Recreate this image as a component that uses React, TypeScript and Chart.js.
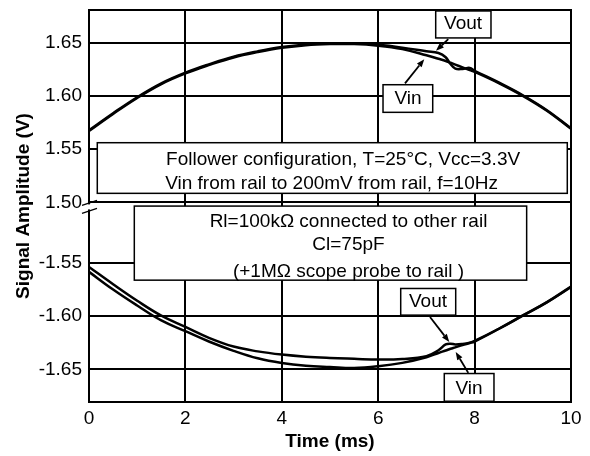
import React, { useEffect, useRef } from 'react';
import { Chart, registerables } from 'chart.js';

Chart.register(...registerables);

// ---- data (time in ms, amplitude in V) ----
const times = [0, 0.5, 1, 1.5, 2, 2.5, 3, 3.5, 4, 4.5, 5, 5.5, 6, 6.5, 7, 7.25, 7.4, 7.5, 7.6, 7.75, 7.9, 8, 8.5, 9, 9.5, 10];

const vinHigh = [1.567, 1.583, 1.598, 1.611, 1.621, 1.629, 1.636, 1.641, 1.645, 1.6475, 1.6485, 1.6485, 1.647, 1.6438, 1.638, 1.6347, 1.6327, 1.631, 1.6293, 1.6267, 1.6241, 1.6225, 1.612, 1.6, 1.586, 1.569];
const voutHigh = [1.5677, 1.5837, 1.5987, 1.6117, 1.6217, 1.6297, 1.6367, 1.6417, 1.6457, 1.6482, 1.6492, 1.6492, 1.6478, 1.6452, 1.6418, 1.6402, 1.6362, 1.6298, 1.6255, 1.6252, 1.6262, 1.6235, 1.6125, 1.6005, 1.5865, 1.5695];
const voutLow = [-1.5538, -1.57, -1.5855, -1.5995, -1.6101, -1.6205, -1.6285, -1.633, -1.636, -1.638, -1.6392, -1.64, -1.6407, -1.6402, -1.6375, -1.632, -1.6265, -1.6258, -1.6265, -1.626, -1.6248, -1.6232, -1.6118, -1.5993, -1.5868, -1.5722];
const vinLow = [-1.5584, -1.575, -1.59, -1.604, -1.6141, -1.624, -1.6325, -1.6395, -1.6439, -1.6465, -1.6477, -1.6486, -1.647, -1.6438, -1.6385, -1.6345, -1.6322, -1.6306, -1.6292, -1.627, -1.6252, -1.6238, -1.612, -1.5995, -1.587, -1.5726];

const xTicks = [0, 2, 4, 6, 8, 10];
const yTicks = [-1.65, -1.6, -1.55, 1.5, 1.55, 1.6, 1.65];
const yLimits = [-1.6805, 1.6805];

// broken axis: upper band starts at 1.50, lower band ends at -1.55, gap in grid units
const STEP = 0.05;
const GAP = 1.135;
const toU = (v: number) => (v >= 0 ? (v - 1.5) / STEP : (v + 1.55) / STEP - GAP);

// ---- annotations (data coordinates) ----
const boxes = [
  { x0: 0.172, x1: 9.923, y0: 1.5085, y1: 1.556 },
  { x0: 0.94, x1: 9.08, y0: -1.4967, y1: -1.5662 },
  { x0: 7.193, x1: 8.34, y0: 1.6543, y1: 1.6796 },
  { x0: 6.1, x1: 7.131, y0: 1.5845, y1: 1.6104 },
  { x0: 6.467, x1: 7.608, y0: -1.574, y1: -1.599 },
  { x0: 7.371, x1: 8.402, y0: -1.6538, y1: -1.6798 },
];
const notes = [
  { text: 'Follower configuration, T=25°C, Vcc=3.3V', x: 1.6, y: 1.5397, align: 'left' },
  { text: 'Vin from rail to 200mV from rail, f=10Hz', x: 1.58, y: 1.5179, align: 'left' },
  { text: 'Rl=100kΩ connected to other rail', x: 5.384, y: -1.5115, align: 'center' },
  { text: 'Cl=75pF', x: 5.384, y: -1.5333, align: 'center' },
  { text: '(+1MΩ scope probe to rail )', x: 5.384, y: -1.5584, align: 'center' },
  { text: 'Vout', x: 7.76, y: 1.6672, align: 'center' },
  { text: 'Vin', x: 6.618, y: 1.5971, align: 'center' },
  { text: 'Vout', x: 7.033, y: -1.5869, align: 'center' },
  { text: 'Vin', x: 7.884, y: -1.6677, align: 'center' },
];
const arrows = [
  { x0: 7.454, y0: 1.6531, x1: 7.199, y1: 1.6423 },
  { x0: 6.556, y0: 1.6117, x1: 6.956, y1: 1.6343 },
  { x0: 7.075, y0: -1.6007, x1: 7.475, y1: -1.6242 },
  { x0: 7.869, y0: -1.6532, x1: 7.608, y1: -1.6335 },
];

const FONT = 'Arial, "Liberation Sans", Helvetica, sans-serif';

const series = (vals: number[]) => times.map((t, i) => ({ x: t, y: toU(vals[i]) }));

const overlay = {
  id: 'overlay',
  afterDatasetsDraw(chart: any) {
    const { ctx, chartArea, scales } = chart;
    const xs = scales.x;
    const ys = scales.y;
    const px = (x: number) => xs.getPixelForValue(x);
    const py = (v: number) => ys.getPixelForValue(toU(v));
    ctx.save();
    // frame
    ctx.strokeStyle = '#000';
    ctx.lineWidth = 2;
    ctx.strokeRect(chartArea.left, chartArea.top, chartArea.right - chartArea.left, chartArea.bottom - chartArea.top);
    // break marks
    const bp = ys.getPixelForValue(0);
    const ax = chartArea.left;
    ctx.fillStyle = '#fff';
    ctx.fillRect(ax - 2, bp + 2, 4, 5);
    ctx.beginPath();
    ctx.lineWidth = 1.3;
    ctx.moveTo(ax - 7, bp + 3);
    ctx.lineTo(ax + 8, bp - 2);
    ctx.moveTo(ax - 7, bp + 11);
    ctx.lineTo(ax + 8, bp + 6);
    ctx.stroke();
    // boxes
    ctx.lineWidth = 1.5;
    for (const b of boxes) {
      const l = px(b.x0), r = px(b.x1), t = py(Math.max(b.y0, b.y1)), bt = py(Math.min(b.y0, b.y1));
      ctx.fillStyle = '#fff';
      ctx.fillRect(l, t, r - l, bt - t);
      ctx.strokeRect(l, t, r - l, bt - t);
    }
    // arrows
    for (const a of arrows) {
      const x0 = px(a.x0), y0 = py(a.y0), x1 = px(a.x1), y1 = py(a.y1);
      const ang = Math.atan2(y1 - y0, x1 - x0);
      const hl = 8, hw = 3;
      ctx.beginPath();
      ctx.lineWidth = 1.8;
      ctx.moveTo(x0, y0);
      ctx.lineTo(x1 - hl * Math.cos(ang), y1 - hl * Math.sin(ang));
      ctx.stroke();
      ctx.beginPath();
      ctx.fillStyle = '#000';
      ctx.moveTo(x1, y1);
      ctx.lineTo(x1 - hl * Math.cos(ang) + hw * Math.sin(ang), y1 - hl * Math.sin(ang) - hw * Math.cos(ang));
      ctx.lineTo(x1 - hl * Math.cos(ang) - hw * Math.sin(ang), y1 - hl * Math.sin(ang) + hw * Math.cos(ang));
      ctx.closePath();
      ctx.fill();
    }
    // texts
    ctx.fillStyle = '#000';
    ctx.font = `19px ${FONT}`;
    ctx.textBaseline = 'middle';
    for (const n of notes) {
      ctx.textAlign = n.align as CanvasTextAlign;
      ctx.fillText(n.text, px(n.x), py(n.y));
    }
    ctx.restore();
  },
};

export default function App() {
  const ref = useRef<HTMLCanvasElement>(null);
  useEffect(() => {
    const lineStyle = {
      borderColor: '#000',
      borderWidth: 2.5,
      pointRadius: 0,
      tension: 0.4,
      fill: false,
    };
    const chart = new Chart(ref.current as HTMLCanvasElement, {
      type: 'line',
      data: {
        datasets: [
          { label: 'Vin', data: series(vinHigh), ...lineStyle },
          { label: 'Vout', data: series(voutHigh), ...lineStyle },
          { label: 'Vout ', data: series(voutLow), ...lineStyle },
          { label: 'Vin ', data: series(vinLow), ...lineStyle },
        ],
      },
      options: {
        responsive: false,
        animation: false,
        layout: { padding: { top: 10, right: 19, bottom: 0, left: 0 } },
        plugins: { legend: { display: false }, tooltip: { enabled: false } },
        scales: {
          x: {
            type: 'linear',
            min: xTicks[0],
            max: xTicks[xTicks.length - 1],
            afterBuildTicks: (s: any) => {
              s.ticks = xTicks.map((v) => ({ value: v }));
            },
            afterFit: (s: any) => {
              s.height = 54;
              s.paddingLeft = 0;
              s.paddingRight = 0;
            },
            grid: { color: '#000', lineWidth: 2, drawTicks: false },
            border: { color: '#000', width: 2 },
            ticks: { color: '#000', padding: 5, font: { family: FONT, size: 19 } },
            title: {
              display: true,
              text: 'Time (ms)',
              color: '#000',
              padding: { top: 0, bottom: 3 },
              font: { family: FONT, size: 19, weight: 'bold' },
            },
          },
          y: {
            type: 'linear',
            min: toU(yLimits[0]),
            max: toU(yLimits[1]),
            afterBuildTicks: (s: any) => {
              s.ticks = yTicks.map((v) => ({ value: toU(v) }));
            },
            afterFit: (s: any) => {
              s.width = 89;
              s.paddingTop = 0;
              s.paddingBottom = 0;
            },
            grid: { color: '#000', lineWidth: 2, drawTicks: false },
            border: { color: '#000', width: 2 },
            ticks: {
              color: '#000',
              padding: 7,
              font: { family: FONT, size: 19 },
              callback: (_v: any, i: number) => yTicks[i].toFixed(2),
            },
            title: {
              display: true,
              text: 'Signal Amplitude (V)',
              color: '#000',
              padding: { top: 12, bottom: 0 },
              font: { family: FONT, size: 19, weight: 'bold' },
            },
          },
        },
      } as any,
      plugins: [overlay],
    });
    return () => chart.destroy();
  }, []);
  return (
    <div style={{ position: 'fixed', left: 0, top: 0, width: 590, height: 456, background: '#fff' }}>
      <canvas ref={ref} width={590} height={456} style={{ display: 'block' }} />
    </div>
  );
}
